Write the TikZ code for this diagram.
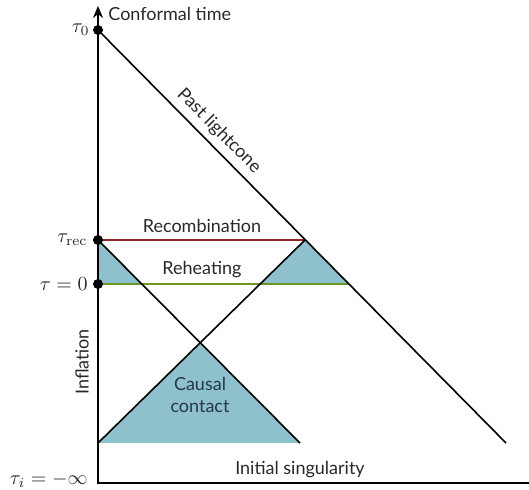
\documentclass[tikz,border=0pt]{standalone}
\usepackage[no-math]{fontspec}
\setmainfont{Lato}
\usepackage{xcolor}
\usetikzlibrary{arrows.meta, positioning}
\definecolor{causalblue}{RGB}{142,193,203}
\definecolor{recred}{RGB}{150,35,40}
\definecolor{rehgreen}{RGB}{112,150,40}
\definecolor{textgray}{RGB}{40,40,40}
\tikzset{
    myarrow/.style={-{Stealth[length=6pt, width=5pt]}},
    ray/.style={draw, line width=0.8pt},
    lbl/.style={font=\small, text=textgray, inner sep=1pt, align=center},
    tlbl/.style={anchor=east, text=textgray, inner sep=1pt},
    epoch/.style={circle, fill=black, inner sep=0pt, minimum size=5pt}
}

\begin{document}
\begin{tikzpicture}[x=0.5pt, y=-0.5pt]
    \useasboundingbox (0,0) rectangle (529,490);
    % time axis
    \coordinate (ti) at (98,483);
    \coordinate (top) at (98,6);
    \coordinate (xend) at (529,483);
    \coordinate (p0) at (98,30);
    \coordinate (prec) at (98,240);
    \coordinate (preh) at (98,284);
    % light rays
    \coordinate (lc) at (506,443);
    \coordinate (a) at (98,443);
    \coordinate (b) at (200,342);
    \coordinate (c) at (300,443);
    \coordinate (d) at (305,240);
    \coordinate (e) at (142,284);
    \coordinate (f) at (260,284);
    \coordinate (g) at (349,284);

    \fill [causalblue] (prec) -- (e) -- (preh) -- cycle;
    \fill [causalblue] (d) -- (f) -- (g) -- cycle;
    \fill [causalblue] (a) -- (b) -- (c) -- cycle;

    \draw [recred, line width=1.1pt] (prec) -- (d);
    \draw [rehgreen, line width=1.1pt] (preh) -- (g);
    \draw [ray] (prec) -- (c);
    \draw [ray] (a) -- (d);
    \draw [ray] (p0) -- node (plc) [lbl, sloped, above, pos=0.27, inner sep=3pt] {Past lightcone} (lc);
    \draw [myarrow, line width=1pt] (xend) -- (ti) -- (top);

    \node (t0) [epoch] at (p0) {};
    \node (trec) [epoch] at (prec) {};
    \node (treh) [epoch] at (preh) {};

    \node (t0l) [tlbl] at (92,30) {$\tau_0$};
    \node (trecl) [tlbl] at (90,240) {$\tau_{\mathrm{rec}}$};
    \node (trehl) [tlbl] at (90,284) {$\tau=0$};
    \node (til) [tlbl] at (90,480) {$\tau_i=-\infty$};

    \node (ctime) [lbl, anchor=west] at (106,14) {Conformal time};
    \node (recomb) [lbl] at (202,226) {Recombination};
    \node (reheat) [lbl] at (202,270) {Reheating};
    \node (causal) [lbl, text={rgb,255:red,35;green,55;blue,75}] at (200,395) {Causal\\contact};
    \node (infl) [lbl, rotate=90] at (82,362) {Inflation};
    \node (sing) [lbl] at (300,470) {Initial singularity};
\end{tikzpicture}
\end{document}
